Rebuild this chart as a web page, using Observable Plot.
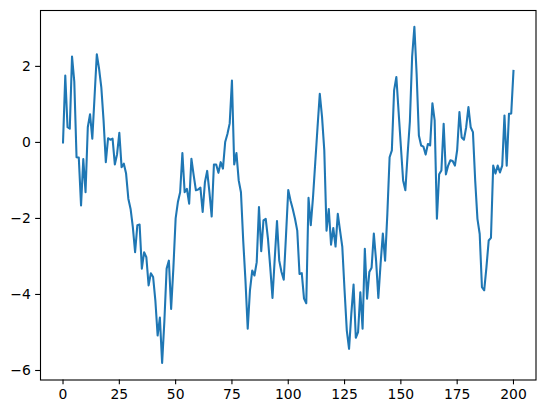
<!DOCTYPE html>
<html>
<head>
<meta charset="utf-8">
<script src="https://cdn.jsdelivr.net/npm/d3@7"></script>
<script src="https://cdn.jsdelivr.net/npm/@observablehq/plot@0.6"></script>
<style>
  html, body { margin: 0; padding: 0; background: #fff; }
  #chart svg { display: block; }
</style>
</head>
<body>
<div id="chart"></div>
<script>
const values = [
  0, 1.76, 0.40, 0.36, 2.26, 1.6, -0.39, -0.40, -1.66, -0.44,
  -1.31, 0.40, 0.74, 0.10, 1.2, 2.32, 1.94, 1.45, 0.58, -0.52,
  0.11, 0.07, 0.10, -0.58, -0.31, 0.25, -0.65, -0.56, -0.82, -1.48,
  -1.75, -2.23, -2.89, -2.18, -2.16, -3.32, -2.89, -3.02, -3.76, -3.44,
  -3.54, -4.16, -5.08, -4.61, -5.80, -4.70, -3.32, -3.11, -4.38, -3.30,
  -2.0, -1.57, -1.31, -0.28, -1.31, -1.22, -1.61, -0.43, -0.86, -1.26,
  -1.24, -1.19, -1.83, -1.05, -0.75, -1.31, -1.95, -0.58, -0.58, -0.80,
  -0.52, -0.69, 0.01, 0.22, 0.50, 1.63, -0.58, -0.28, -1.0, -1.31,
  -2.58, -3.63, -4.90, -3.89, -3.37, -3.50, -3.15, -1.70, -2.86, -2.05,
  -2.01, -2.54, -3.28, -4.09, -3.06, -2.07, -3.11, -3.41, -3.61, -2.45,
  -1.25, -1.53, -1.75, -2.01, -2.32, -3.46, -3.44, -4.11, -4.23, -1.46,
  -2.18, -1.44, -0.52, 0.40, 1.28, 0.67, -0.21, -2.32, -1.75, -2.69,
  -2.25, -2.74, -1.88, -2.32, -2.75, -3.89, -4.95, -5.43, -4.51, -3.74,
  -5.14, -4.99, -3.94, -4.90, -2.80, -4.11, -3.41, -3.30, -2.40, -3.11,
  -4.09, -3.19, -2.40, -3.11, -1.88, -0.39, -0.21, 1.37, 1.72, 0.80,
  -0.1, -1.0, -1.26, -0.31, 0.55, 2.25, 3.04, 1.8, 0.18, -0.08,
  -0.11, -0.32, -0.04, -0.08, 1.03, 0.58, -2.01, -0.84, -0.74, 0.49,
  -0.84, -0.61, -0.47, -0.49, -0.61, -0.2, 0.80, 0.13, 0.07, 0.40,
  0.93, 0.40, 0.27, -1.0, -2.01, -2.41, -3.81, -3.89, -3.28, -2.58,
  -2.51, -0.61, -0.82, -0.61, -0.79, -0.61, 0.71, -0.61, 0.75, 0.76,
  1.88
];
const xTicks = [0, 25, 50, 75, 100, 125, 150, 175, 200];
const yTicks = [-6, -4, -2, 0, 2];

const fmt = d => (d < 0 ? "\u2212" + Math.abs(d) : String(d));
const fontFamily = "'DejaVu Sans', sans-serif";

const chart = Plot.plot({
  width: 546,
  height: 413,
  marginLeft: 40,
  marginRight: 10.5,
  marginTop: 10,
  marginBottom: 33.5,
  style: { fontFamily, fontSize: "13.9px", color: "black", background: "white" },
  x: { domain: [-10, 210] },
  y: { domain: [-6.25, 3.47] },
  marks: [
    Plot.lineY(values, { stroke: "#1f77b4", strokeWidth: 2.08, strokeLinejoin: "round", strokeLinecap: "square" }),
    Plot.frame({ stroke: "black", strokeWidth: 1.1 }),
    Plot.axisX({ ticks: xTicks, tickSize: 4.86, tickPadding: 4.2, tickFormat: fmt, label: null, stroke: "black", strokeWidth: 1.1, fill: "black", fontSize: 13.9 }),
    Plot.axisY({ ticks: yTicks, tickSize: 4.86, tickPadding: 4.86, tickFormat: fmt, label: null, stroke: "black", strokeWidth: 1.1, fill: "black", fontSize: 13.9 })
  ]
});
document.getElementById("chart").appendChild(chart);
</script>
</body>
</html>
